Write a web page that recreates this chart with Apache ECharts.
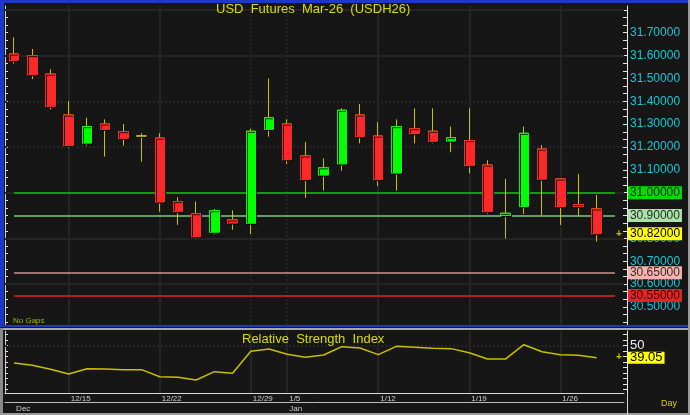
<!DOCTYPE html>
<html><head><meta charset="utf-8">
<script src="https://cdn.jsdelivr.net/npm/echarts@6/dist/echarts.min.js"></script>
<style>html,body{margin:0;padding:0;background:#161616}#c{width:690px;height:415px}</style>
</head><body><div id="c"></div>
<script>
// ---- data ----
const dates = ['12/10','12/11','12/12','12/15','12/16','12/17','12/18','12/19','12/22','12/23','12/24','12/25','12/26','12/29','12/30',
  '1/5','1/6','1/7','1/8','1/9','1/12','1/13','1/14','1/15','1/16','1/19','1/20','1/21','1/22','1/23','1/26','1/27','1/28'];
const opens  = [31.607,31.600,31.519,31.340,31.217,31.301,31.267,31.248,31.239,30.961,30.908,30.827,30.881,30.866,31.277,
  31.301,31.161,31.077,31.126,31.340,31.248,31.086,31.280,31.269,31.226,31.228,31.121,30.900,30.939,31.191,31.060,30.948,30.929];
const highs  = [31.680,31.629,31.540,31.401,31.328,31.321,31.301,31.260,31.260,30.980,30.961,30.929,30.923,31.280,31.500,
  31.321,31.222,31.150,31.369,31.388,31.309,31.321,31.369,31.369,31.289,31.369,31.142,31.061,31.289,31.209,31.061,31.082,30.990];
const lows   = [31.565,31.498,31.365,31.197,31.206,31.158,31.206,31.136,30.917,30.859,30.800,30.818,30.838,30.819,31.245,
  31.126,30.977,31.010,31.096,31.216,31.029,31.009,31.216,31.216,31.177,31.085,30.907,30.799,30.907,30.902,30.859,30.899,30.786];
const closes = [31.578,31.516,31.378,31.206,31.289,31.277,31.238,31.248,30.959,30.917,30.807,30.921,30.867,31.269,31.328,
  31.144,31.057,31.109,31.361,31.245,31.057,31.289,31.258,31.225,31.241,31.118,30.917,30.910,31.260,31.059,30.939,30.939,30.820];
const rsi = [34.2,32.1,28.5,24.2,29.0,28.7,28.1,28.1,21.7,21.2,18.7,26.3,24.8,44.9,47.0,
  42.2,39.4,41.5,49.1,47.9,41.8,49.4,48.5,47.6,47.3,43.6,37.9,37.9,50.9,44.5,41.8,41.2,39.05];
const priceTicks = [30.5,30.6,30.7,30.8,30.9,31.0,31.1,31.2,31.3,31.4,31.5,31.6,31.7];
const priceGridValues = [31.8,31.6,31.4,31.2,31.0,30.8,30.6];
const gridDates = ['12/15','12/22','12/29','1/5','1/12','1/19','1/26'];
const levelValues = [31.00,30.90,30.65,30.55];
const lastPrice = 30.82;
const rsiTicks = [50];
const rsiLast = 39.05;
const title = 'USD  Futures  Mar-26  (USDH26)';
const rsiTitle = 'Relative  Strength  Index';

// ---- styles ----
const FONT = 'Liberation Sans, Arial, sans-serif';
const YEL = '#c8c000';
const GRIDC = '#252525';
const dottedH = [31.4, 31.2];
const dottedV = ['12/29','1/5'];
const levelStyles = [
  {line:'#109e10', w:2,   bg:'#00dc00', fg:'#1c1c1c'},
  {line:'#80c880', w:1.5, bg:'#a8e4a8', fg:'#2a2a2a'},
  {line:'#c89490', w:1.5, bg:'#f4b4ae', fg:'#3a2a2a'},
  {line:'#b02020', w:2,   bg:'#e42424', fg:'#3a0000'}
];
const priceMin = 30.421, priceMax = 31.817;
const rsiMin = 6.8, rsiMax = 63.4;
const HIDDEN = {color:'rgba(0,0,0,0)', width:0};
const ARROW = {show:true, position:'end', distance:-8, formatter:'+', color:'#c8c000', fontSize:10, fontWeight:'bold', fontFamily:FONT};

const cats = dates.concat(['']);
const monthNames = ['Jan','Feb','Mar','Apr','May','Jun','Jul','Aug','Sep','Oct','Nov','Dec'];
const monthOf = d => d ? parseInt(d.split('/')[0], 10) : null;
const isMonthStart = i => i > 0 && !!cats[i] && monthOf(cats[i]) !== monthOf(cats[i-1]);
function stepTicks(min, max, step){ const a=[]; for(let k=Math.ceil(min/step); k*step<=max; k++) a.push(+(k*step).toFixed(5)); return a; }
const fineTicks = stepTicks(priceMin, priceMax, 0.1/3);
const rsiFine = stepTicks(rsiMin, rsiMax, 5);

const wickData = dates.map((d,i)=>[opens[i], closes[i], lows[i], highs[i]]);
const bodyData = dates.map((d,i)=>{
  const o=opens[i], c=closes[i];
  const item = {value:[o, c, Math.min(o,c), Math.max(o,c)]};
  if (o === c) item.itemStyle = {color:YEL, color0:YEL, borderColor:YEL, borderColor0:YEL};
  return item;
});

const gridMarks = priceGridValues.map(v=>({yAxis:v, lineStyle:{color:GRIDC, width:2, type: dottedH.includes(v)?'dotted':'solid'}}))
  .concat(gridDates.map(d=>({xAxis:d, lineStyle:{color:GRIDC, width:2, type: dottedV.includes(d)?'dotted':'solid'}})));
const rsiGridMarks = [{yAxis:50, lineStyle:{color:GRIDC, width:2, type:'dotted'}}]
  .concat(gridDates.map(d=>({xAxis:d, lineStyle:{color:GRIDC, width:2, type:'solid'}})));

const levelMarks = levelValues.map((v,k)=>{
  const s = levelStyles[k];
  return [
    {coord:[0, v], lineStyle:{color:s.line, width:s.w, type:'solid'},
     label:{show:true, position:'end', distance:13, formatter:v.toFixed(5), backgroundColor:s.bg, color:s.fg,
            fontSize:12, fontFamily:FONT, padding:[1,2,0,2], lineHeight:12}},
    {coord:[cats.length-1, v]}
  ];
});
levelMarks.push({yAxis:lastPrice, lineStyle:HIDDEN,
  label:{show:true, position:'end', distance:4, formatter:lastPrice.toFixed(5), backgroundColor:'#ffff00', color:'#000',
         fontSize:12, fontFamily:FONT, padding:[1,2,0,2], lineHeight:12}});
levelMarks.push({yAxis:lastPrice, lineStyle:HIDDEN, label:ARROW});

const chart = echarts.init(document.getElementById('c'));
const option = {
  backgroundColor:'#161616',
  animation:false,
  textStyle:{fontFamily:FONT},
  title:[
    {text:title, left:216, top:3, padding:0, textStyle:{color:'#dcdc00', fontSize:13, fontWeight:'normal', fontFamily:FONT}},
    {text:rsiTitle, left:242, top:333, padding:0, textStyle:{color:'#dcdc00', fontSize:13, fontWeight:'normal', fontFamily:FONT}},
    {text:'No Gaps', left:13, top:317, padding:0, textStyle:{color:'#b0b000', fontSize:8, fontWeight:'normal', fontFamily:FONT}},
    {text:'Day', left:661, top:399, padding:0, textStyle:{color:'#d8d000', fontSize:9, fontWeight:'normal', fontFamily:FONT}}
  ],
  grid:[
    {left:5, right:66, top:6, height:319},
    {left:5, right:66, top:331, height:62}
  ],
  xAxis:[
    {type:'category', gridIndex:0, data:cats, boundaryGap:true, show:false},
    {type:'category', gridIndex:1, data:cats, boundaryGap:true, position:'bottom',
     axisLine:{lineStyle:{color:'#d8d8d8', width:1}},
     axisTick:{alignWithLabel:true, length:9, interval:(i,v)=>gridDates.includes(v), lineStyle:{color:'#d8d8d8'}},
     axisLabel:{interval:(i,v)=>gridDates.includes(v), color:'#d0d0d0', fontSize:8, align:'left', margin:2, padding:[0,0,0,2], fontFamily:FONT},
     splitLine:{show:false}},
    {type:'category', gridIndex:1, data:cats, boundaryGap:true, position:'bottom', offset:9,
     axisLine:{lineStyle:{color:'#bcbcbc', width:1}},
     axisTick:{alignWithLabel:true, length:11, interval:(i)=>isMonthStart(i), lineStyle:{color:'#d8d8d8'}},
     axisLabel:{interval:(i)=>i===0||isMonthStart(i), formatter:(v)=>v?monthNames[monthOf(v)-1]:'', color:'#d0d0d0', fontSize:8, align:'left', margin:3, padding:[0,0,0,2], fontFamily:FONT},
     splitLine:{show:false}}
  ],
  yAxis:[
    {type:'value', gridIndex:0, position:'right', min:priceMin, max:priceMax, offset:3, scale:true,
     axisLine:{show:true, lineStyle:{color:'#e8e8e8'}},
     axisTick:{show:true, inside:true, length:4, customValues:fineTicks, lineStyle:{color:'#e8e8e8'}},
     axisLabel:{customValues:priceTicks, formatter:v=>v.toFixed(5), color:'#14c8d8', fontSize:12, margin:3, fontFamily:FONT},
     splitLine:{show:false}},
    {type:'value', gridIndex:0, position:'left', min:priceMin, max:priceMax, scale:true,
     axisLine:{show:true, lineStyle:{color:'#d0d0d0'}},
     axisTick:{show:true, inside:true, length:3, customValues:fineTicks, lineStyle:{color:'#e0e0e0'}},
     axisLabel:{show:false}, splitLine:{show:false}},
    {type:'value', gridIndex:1, position:'right', min:rsiMin, max:rsiMax, offset:3,
     axisLine:{show:true, lineStyle:{color:'#e8e8e8'}},
     axisTick:{show:true, inside:true, length:4, customValues:rsiFine, lineStyle:{color:'#e8e8e8'}},
     axisLabel:{customValues:rsiTicks, color:'#eeeeee', fontSize:13, margin:3, fontFamily:FONT},
     splitLine:{show:false}},
    {type:'value', gridIndex:1, position:'left', min:rsiMin, max:rsiMax,
     axisLine:{show:true, lineStyle:{color:'#d0d0d0'}},
     axisTick:{show:true, inside:true, length:3, customValues:rsiFine, lineStyle:{color:'#e0e0e0'}},
     axisLabel:{show:false}, splitLine:{show:false}}
  ],
  series:[
    {type:'line', name:'grid', xAxisIndex:0, yAxisIndex:0, data:[], z:1, silent:true,
     markLine:{silent:true, symbol:'none', z:1, label:{show:false}, data:gridMarks}},
    {type:'line', name:'levels', xAxisIndex:0, yAxisIndex:0, data:[], z:2, silent:true, clip:false,
     markLine:{silent:true, symbol:'none', z:2, data:levelMarks}},
    {type:'candlestick', name:'wick', xAxisIndex:0, yAxisIndex:0, data:wickData, z:3, barWidth:10,
     itemStyle:{color:'transparent', color0:'transparent', borderColor:YEL, borderColor0:YEL, borderWidth:1}},
    {type:'candlestick', name:'body', xAxisIndex:0, yAxisIndex:0, data:bodyData, z:4, barWidth:10,
     itemStyle:{color:'#00ff00', color0:'#ff2828', borderColor:'#00ff00', borderColor0:'#ff2828', borderWidth:1,
                shadowColor:'rgba(0,0,0,0.9)', shadowOffsetX:1, shadowOffsetY:1}},
    {type:'line', name:'rsigrid', xAxisIndex:1, yAxisIndex:2, data:[], z:1, silent:true,
     markLine:{silent:true, symbol:'none', z:1, label:{show:false}, data:rsiGridMarks}},
    {type:'line', name:'RSI', xAxisIndex:1, yAxisIndex:2, data:rsi, z:3, symbol:'none', clip:false,
     lineStyle:{color:'#c8c000', width:1.5}},
    {type:'line', name:'rsiLast', xAxisIndex:1, yAxisIndex:2, data:[], z:5, silent:true, clip:false,
     markLine:{silent:true, symbol:'none', z:5, data:[
       {yAxis:rsiLast, lineStyle:HIDDEN,
        label:{show:true, position:'end', distance:4, formatter:rsiLast.toFixed(2), backgroundColor:'#ffff00', color:'#000',
               fontSize:13, fontFamily:FONT, padding:[0,2,0,2], lineHeight:12}},
       {yAxis:rsiLast, lineStyle:HIDDEN, label:ARROW}]}}
  ],
  graphic:[
    {type:'rect', z:100, shape:{x:0, y:0, width:690, height:3}, style:{fill:'#1c38c8'}, silent:true},
    {type:'rect', z:100, shape:{x:0, y:0, width:4, height:327}, style:{fill:'#1c38c8'}, silent:true},
    {type:'rect', z:100, shape:{x:0, y:325, width:690, height:2}, style:{fill:'#1c38c8'}, silent:true},
    {type:'rect', z:100, shape:{x:0, y:328, width:690, height:2}, style:{fill:'#a8a8a8'}, silent:true},
    {type:'rect', z:100, shape:{x:0, y:328, width:3, height:87}, style:{fill:'#8a8a8a'}, silent:true},
    {type:'rect', z:100, shape:{x:0, y:413, width:690, height:2}, style:{fill:'#9a9a9a'}, silent:true},
    {type:'rect', z:100, shape:{x:688, y:0, width:2, height:415}, style:{fill:'#9a9a9a'}, silent:true},
    {type:'line', z:100, shape:{x1:627.5, y1:393, x2:627.5, y2:415}, style:{stroke:'#d8d8d8', lineWidth:1}, silent:true}
  ]
};
chart.setOption(option);
</script>
</body></html>
